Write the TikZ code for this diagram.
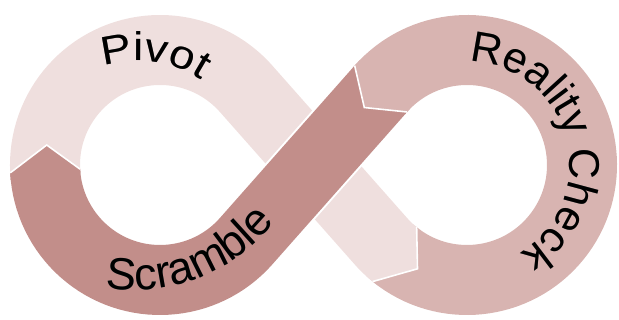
\documentclass[tikz,border=0pt]{standalone}
\usepackage{fontspec}
\setmainfont{Liberation Sans}
\newfontfamily\pivotface[FakeStretch=1.15]{Liberation Sans}
\usepackage{tikz}
\usetikzlibrary{calc,decorations.text}
\definecolor{pivotpink}{HTML}{EFDFDE}
\definecolor{scramblerose}{HTML}{C28E8A}
\definecolor{realityrose}{HTML}{D8B4B1}
\definecolor{shadowgray}{HTML}{808080}
\newcommand{\pivotfont}{\pivotface\fontsize{40}{40}\selectfont}
\newcommand{\scramblefont}{\fontsize{45}{45}\selectfont}
\newcommand{\realityfont}{\fontsize{43}{43}\selectfont}
\tikzset{
  loopband/.style={draw=#1, line width=70pt, line cap=butt},
  bandcase/.style={draw=white, line width=74pt, line cap=butt},
  headfill/.style={fill=#1},
  headedge/.style={draw=white, line width=1.6pt, line join=miter},
  looptext/.style={
    decorate, decoration={text along path, text align=center,
      text color=black, text={#1}}
  },
  loopshadow/.style={
    decorate, decoration={text along path, text align=center,
      text color=shadowgray, text={#1}}, shift={(1.6,-1.6)}
  }
}

\begin{document}
\begin{tikzpicture}[x=1pt,y=1pt]

  \useasboundingbox (0,0) rectangle (619,320);

  %% ---- loop centres and tangent points ----
  \coordinate (L)  at (160,155);
  \coordinate (Rc) at (467,155);
  \coordinate (T1) at ($(L)+(41.5:115)$);
  \coordinate (T2) at ($(L)+(-41.5:115)$);
  \coordinate (T3) at ($(Rc)+(138.5:115)$);
  \coordinate (T4) at ($(Rc)+(221.5:115)$);
  % centres of the label arcs
  \coordinate (PivC) at (138,145);
  \coordinate (ScrC) at (135,207);

  %% ---- Pivot ----
  \draw[loopband=pivotpink] ($(L)+(186:115)$)
    arc[start angle=186, end angle=41.5, radius=115] -- (T4)
    arc[start angle=221.5, end angle=234, radius=115];

  %% ---- Reality Check ----
  \draw[loopband=realityrose] ($(Rc)+(231:115)$)
    arc[start angle=231, end angle=498.5, radius=115] -- ++(228.5:3);

  %% ---- Scramble ----
  \draw[bandcase] ($(T3)+(228.5:12)$) -- ($(T2)+(48.5:12)$);
  \draw[loopband=scramblerose] (T3) -- (T2)
    arc[start angle=-41.5, end angle=-177, radius=115];

  %% Arrow heads
  \fill[headfill=scramblerose] ($(L)+(186:150)$) -- ($(L)+(183:150)$)
    -- ($(L)+(170:115)$) -- ($(L)+(183:80)$) -- ($(L)+(186:80)$) -- cycle;
  \draw[headedge] ($(L)+(183:150)$) -- ($(L)+(170:115)$)
    -- ($(L)+(183:80)$);

  \fill[headfill=pivotpink] ($(Rc)+(228:80)$) -- ($(Rc)+(231:80)$)
    -- ($(Rc)+(244.5:115)$) -- ($(Rc)+(231:150)$) -- ($(Rc)+(228:150)$)
    -- cycle;
  \draw[headedge] ($(Rc)+(231:80)$) -- ($(Rc)+(244.5:115)$)
    -- ($(Rc)+(231:150)$);

  \fill[headfill=realityrose] ($(Rc)+(135.5:150)$) -- ($(Rc)+(138.5:150)$)
    -- ($(T3)+(228.5:25)$) -- ($(Rc)+(138.5:80)$) -- ($(Rc)+(135.5:80)$)
    -- cycle;
  \draw[headedge] ($(Rc)+(138.5:150)$) -- ($(T3)+(228.5:25)$)
    -- ($(Rc)+(138.5:80)$);

  %% Labels
  \path[loopshadow={|\pivotfont|Pivot}] ($(PivC)+(152:114)$)
    arc[start angle=152, end angle=12, radius=114];
  \path[looptext={|\pivotfont|Pivot}] ($(PivC)+(152:114)$)
    arc[start angle=152, end angle=12, radius=114];

  \path[loopshadow={|\scramblefont|Scramble}] ($(ScrC)+(239:177)$)
    arc[start angle=239, end angle=343.5, radius=177];
  \path[looptext={|\scramblefont|Scramble}] ($(ScrC)+(239:177)$)
    arc[start angle=239, end angle=343.5, radius=177];

  \path[loopshadow={|\realityfont|Reality Check}] ($(Rc)+(105:103)$)
    arc[start angle=105, end angle=-75, radius=103];
  \path[looptext={|\realityfont|Reality Check}] ($(Rc)+(105:103)$)
    arc[start angle=105, end angle=-75, radius=103];

\end{tikzpicture}
\end{document}
